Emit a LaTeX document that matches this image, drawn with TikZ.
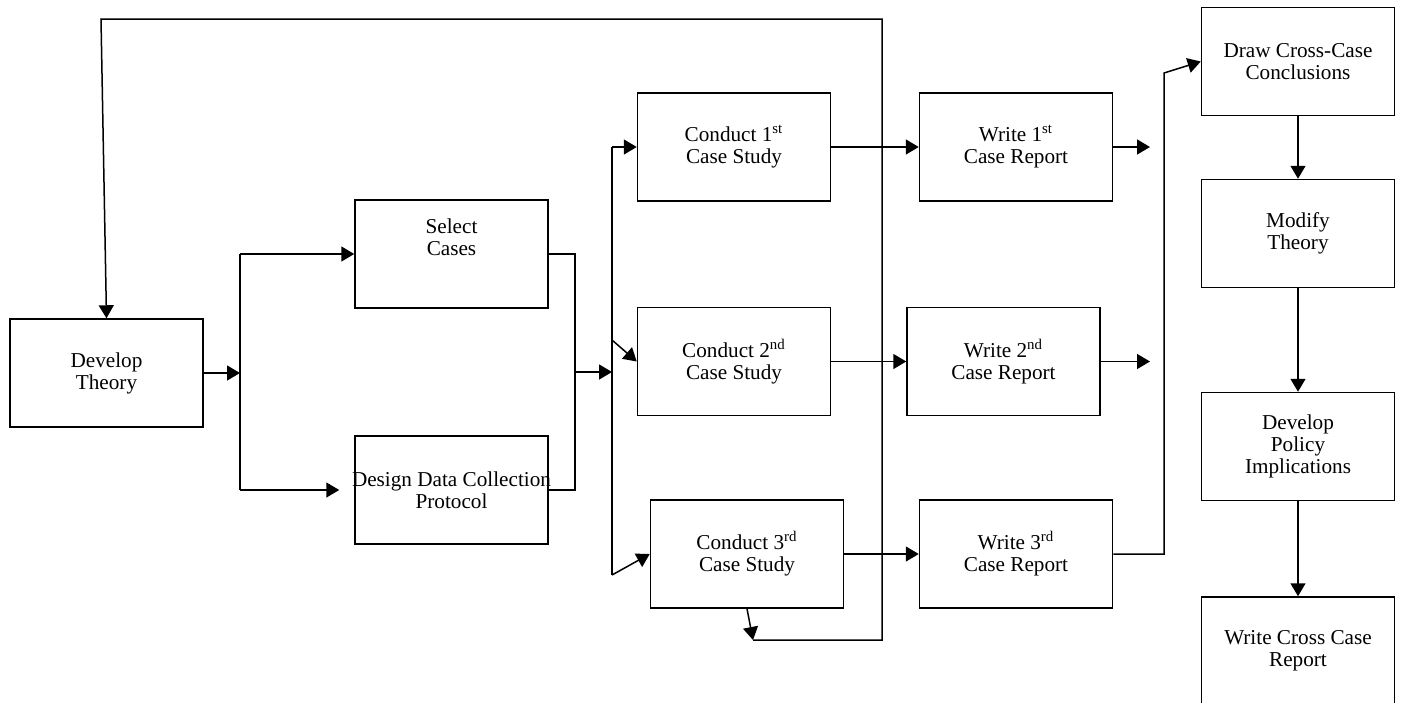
\documentclass[tikz,border=0pt]{standalone}
\usepackage{fontspec}
\setmainfont{Liberation Serif}
\usetikzlibrary{arrows.meta}

\begin{document}
\begin{tikzpicture}[x=0.5pt, y=-0.5pt, line width=0.75pt,
    stage/.style={draw, minimum width=96.5pt, minimum height=54pt, inner sep=2pt, align=center, font=\fontsize{10.6}{11}\selectfont},
    arr/.style={-{Triangle[length=6.5pt, width=7.5pt]}}]

    \useasboundingbox (0,0) rectangle (1402,702);

    % Left part
    \node[stage] (theory) at (106.5,373) {Develop\\Theory};
    \node[stage] (select) at (451.5,254) {};
    \node[align=center, font=\fontsize{10.6}{11}\selectfont] (selecttxt) at (451.5,237) {Select\\Cases};
    \node[stage] (design) at (451.5,490) {\makebox[88pt]{Design Data Collection}\\Protocol};

    % Case studies
    \node[stage] (cs1) at (734,147) {Conduct 1\textsuperscript{st}\\Case Study};
    \node[stage] (cs2) at (734,361.5) {Conduct 2\textsuperscript{nd}\\Case Study};
    \node[stage] (cs3) at (747,554) {Conduct 3\textsuperscript{rd}\\Case Study};

    \node[stage] (wr1) at (1016,147) {Write 1\textsuperscript{st}\\Case Report};
    \node[stage] (wr2) at (1003.5,361.5) {Write 2\textsuperscript{nd}\\Case Report};
    \node[stage] (wr3) at (1016,554) {Write 3\textsuperscript{rd}\\Case Report};

    % Right column
    \node[stage] (cross) at (1298,61.5) {Draw Cross-Case\\Conclusions};
    \node[stage] (modify) at (1298,233.5) {Modify\\Theory};
    \node[stage] (policy) at (1298,446.5) {Develop\\Policy\\Implications};
    \node[stage] (report) at (1298,651) {Write Cross Case\\Report};

    % junction points
    \coordinate (fork) at (240,373);
    \coordinate (forktop) at (240,254);
    \coordinate (forkbot) at (240,490);
    \coordinate (mergetop) at (575,254);
    \coordinate (mergebot) at (575,490);
    \coordinate (merge) at (575,372);
    \coordinate (split) at (612,372);
    \coordinate (splittop) at (612,147);
    \coordinate (splitmid) at (612,340);
    \coordinate (splitbot) at (612,575);
    \coordinate (out1) at (1150,147);
    \coordinate (out2) at (1150,361.5);
    \coordinate (gather) at (1164,554);
    \coordinate (gathertop) at (1164,73);
    \coordinate (loopA) at (753,640);
    \coordinate (loopB) at (882,640);
    \coordinate (loopC) at (882,19);
    \coordinate (loopD) at (101,19);

    \draw[arr] (theory) -- (fork);
    \draw (forktop) -- (forkbot);
    \draw[arr] (forktop) -- (select);
    \draw[arr, shorten >=7.5pt] (forkbot) -- (design.west);

    \draw (select) -- (mergetop) -- (mergebot) -- (design);
    \draw[arr] (merge) -- (split);

    \draw (splittop) -- (splitbot);
    \draw[arr] (splittop) -- (cs1);
    \draw[arr] (splitmid) -- (cs2.west);
    \draw[arr] (splitbot) -- (cs3.west);

    \draw[arr] (cs1) -- (wr1);
    \draw[arr] (cs2) -- (wr2);
    \draw[arr] (cs3) -- (wr3);

    \draw[arr] (wr1) -- (out1);
    \draw[arr] (wr2) -- (out2);
    \draw[arr] (wr3.east) -- (gather) -- (gathertop) -- (cross.west);

    \draw[arr] (cross) -- (modify);
    \draw[arr] (modify) -- (policy);
    \draw[arr] (policy) -- (report);

    % feedback loop
    \draw[arr] (cs3.south) -- (loopA);
    \draw[arr] (loopA) -- (loopB) -- (loopC) -- (loopD) -- (theory.north);

\end{tikzpicture}
\end{document}
